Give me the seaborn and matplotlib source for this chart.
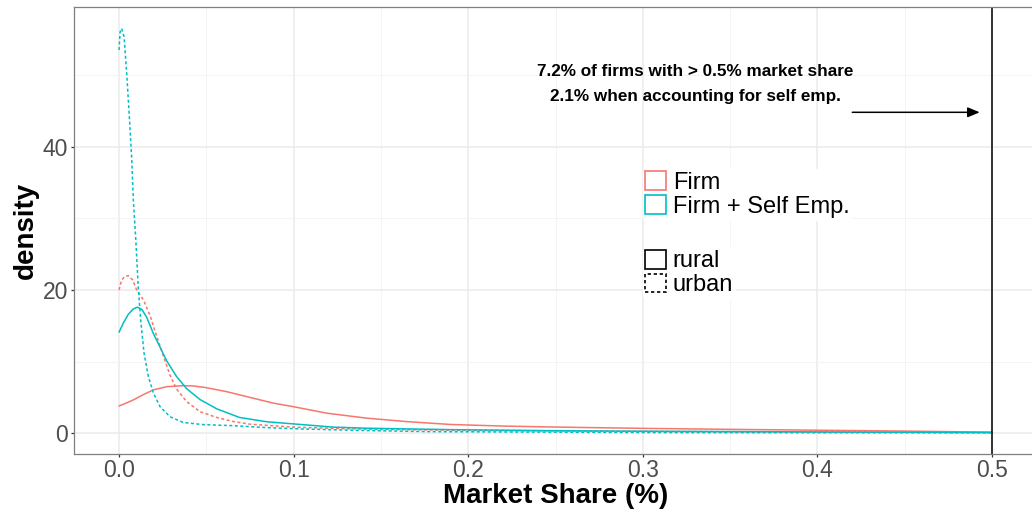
import numpy as np
import pandas as pd
import seaborn as sns
import matplotlib
matplotlib.use("Agg")
import matplotlib.pyplot as plt
from matplotlib.patches import Patch

# ── Data (density curves) ────────────────────────────────────────────────────
firm_rural_x = [0, 0.004, 0.0082, 0.014, 0.0196, 0.0273, 0.0368, 0.0426, 0.05, 0.0617,
                0.075, 0.0884, 0.1, 0.119, 0.142, 0.165, 0.19, 0.22, 0.25, 0.3,
                0.35, 0.4, 0.45, 0.5]
firm_rural_y = [3.8, 4.2, 4.65, 5.4, 6.05, 6.5, 6.64, 6.6, 6.36, 5.8,
                5.0, 4.2, 3.7, 2.8, 2.1, 1.62, 1.22, 1.0, 0.86, 0.68,
                0.54, 0.42, 0.3, 0.15]

firm_urban_x = [0, 0.0015, 0.0034, 0.0053, 0.0078, 0.0101, 0.014, 0.0178, 0.0216,
                0.0254, 0.0292, 0.033, 0.0388, 0.0464, 0.056, 0.065, 0.075, 0.1,
                0.142, 0.2, 0.25, 0.3, 0.35, 0.4, 0.45, 0.5]
firm_urban_y = [20.0, 21.4, 21.9, 22.0, 21.4, 20.0, 18.6, 16.4, 13.5,
                10.8, 8.1, 6.15, 4.4, 3.0, 2.2, 1.65, 1.26, 0.85,
                0.56, 0.4, 0.33, 0.27, 0.22, 0.18, 0.13, 0.1]

selfemp_rural_x = [0, 0.0025, 0.0053, 0.0082, 0.0105, 0.013, 0.0158, 0.0197, 0.0235,
                   0.0273, 0.033, 0.0388, 0.0464, 0.056, 0.069, 0.0846, 0.1, 0.123,
                   0.142, 0.19, 0.25, 0.3, 0.4, 0.5]
selfemp_rural_y = [14.1, 15.4, 16.6, 17.35, 17.6, 17.3, 16.2, 13.9, 12.0,
                   10.1, 7.9, 6.2, 4.7, 3.4, 2.2, 1.6, 1.3, 0.85,
                   0.7, 0.5, 0.35, 0.28, 0.18, 0.1]

selfemp_urban_x = [0, 0.0006, 0.0015, 0.0029, 0.0044, 0.0059, 0.0073, 0.0082, 0.0096,
                   0.011, 0.0124, 0.0143, 0.0168, 0.0197, 0.0235, 0.0292, 0.0368,
                   0.0483, 0.065, 0.085, 0.104, 0.142, 0.18, 0.25, 0.3, 0.4, 0.5]
selfemp_urban_y = [53.5, 56.0, 56.5, 55.3, 50.2, 44.2, 38.1, 32.5, 27.0,
                   20.4, 15.8, 11.2, 7.9, 5.6, 3.7, 2.3, 1.5,
                   1.2, 1.06, 0.78, 0.6, 0.37, 0.22, 0.15, 0.1, 0.07, 0.05]

samples = ["Firm", "Firm + Self Emp."]
areas = ["rural", "urban"]
colors = ["#F8766D", "#00BFC4"]

x_ticks = [0.0, 0.1, 0.2, 0.3, 0.4, 0.5]
y_ticks = [0, 20, 40]

note_lines = ["7.2% of firms with > 0.5% market share",
              "2.1% when accounting for self emp."]

# ── Long-format table ────────────────────────────────────────────────────────
frames = []
for s, a, xs, ys in [
    ("Firm", "rural", firm_rural_x, firm_rural_y),
    ("Firm", "urban", firm_urban_x, firm_urban_y),
    ("Firm + Self Emp.", "rural", selfemp_rural_x, selfemp_rural_y),
    ("Firm + Self Emp.", "urban", selfemp_urban_x, selfemp_urban_y),
]:
    frames.append(pd.DataFrame({"share": xs, "density": ys, "sample": s, "area": a}))
df = pd.concat(frames, ignore_index=True)

# ── Plot ─────────────────────────────────────────────────────────────────────
sns.set_theme(style="white")
plt.rcParams["font.family"] = ["Liberation Sans", "DejaVu Sans"]
plt.rcParams["text.color"] = "black"

fig = plt.figure(figsize=(10.32, 5.13), dpi=100)
W, H = 1032, 513
left, right, top, bottom = 74, 1037, 7, 454
ax = fig.add_axes([left / W, 1 - bottom / H, (right - left) / W, (bottom - top) / H])

palette = dict(zip(samples, colors))
dot = (2.0, 1.6)
sns.lineplot(data=df, x="share", y="density", hue="sample", style="area",
             palette=palette, dashes={"rural": "", "urban": dot},
             estimator=None, linewidth=1.1, legend=False, ax=ax)

ax.set_xlim(-0.0258, 0.5258)
ax.set_ylim(-2.9, 59.5)
ax.set_xticks(x_ticks)
ax.set_xticklabels([f"{v:.1f}" for v in x_ticks])
ax.set_yticks(y_ticks)
ax.set_xticks([0.05, 0.15, 0.25, 0.35, 0.45], minor=True)
ax.set_yticks([10, 30, 50], minor=True)

ax.grid(which="major", color="#EBEBEB", linewidth=1.1)
ax.grid(which="minor", color="#F2F2F2", linewidth=0.6)
ax.set_axisbelow(True)
for sp in ax.spines.values():
    sp.set_color("#7F7F7F")
    sp.set_linewidth(0.9)

ax.tick_params(axis="both", which="major", length=2.5, width=0.9, color="#333333",
               labelsize=16.5, labelcolor="#4D4D4D", left=True, bottom=True)
ax.tick_params(axis="x", which="major", pad=0.8)
ax.tick_params(axis="y", which="major", pad=1.8)
ax.tick_params(axis="both", which="minor", length=0)

ax.set_xlabel("Market Share (%)", fontsize=20, fontweight="bold", color="black", labelpad=1)
ax.set_ylabel("density", fontsize=20, fontweight="bold", color="black", labelpad=3)

# threshold line + annotation
ax.axvline(0.5, color="black", linewidth=1.1)
ax.text(0.33, 50.5, note_lines[0], ha="center", va="center", fontsize=12.3,
        fontweight="bold", color="black")
ax.text(0.33, 47.0, note_lines[1], ha="center", va="center", fontsize=12.3,
        fontweight="bold", color="black")
ax.annotate("", xy=(0.493, 44.8), xytext=(0.42, 44.8),
            arrowprops=dict(arrowstyle="-|>,head_length=0.6,head_width=0.25",
                            color="black", linewidth=1.1, shrinkA=0, shrinkB=0))

# legends (outlined squares like ggplot density keys)
h1 = [Patch(facecolor="white", edgecolor=c, linewidth=1.2, label=s)
      for s, c in zip(samples, colors)]
leg1 = ax.legend(handles=h1, loc="upper left", bbox_to_anchor=(0.591, 0.638),
                 fontsize=17, frameon=True, framealpha=1, edgecolor="white",
                 borderpad=0.1, handlelength=0.85, handleheight=0.85,
                 handletextpad=0.3, labelspacing=0.05, borderaxespad=0,
                 labelcolor="black")
ax.add_artist(leg1)
h2 = [Patch(facecolor="white", edgecolor="black", linewidth=1.2, label="rural"),
      Patch(facecolor="white", edgecolor="black", linewidth=1.2, linestyle=(0, dot),
            label="urban")]
ax.legend(handles=h2, loc="upper left", bbox_to_anchor=(0.591, 0.462),
          fontsize=17, frameon=True, framealpha=1, edgecolor="white",
          borderpad=0.1, handlelength=0.85, handleheight=0.85,
          handletextpad=0.3, labelspacing=0.05, borderaxespad=0,
          labelcolor="black")

fig.savefig("out.png", dpi=100)
